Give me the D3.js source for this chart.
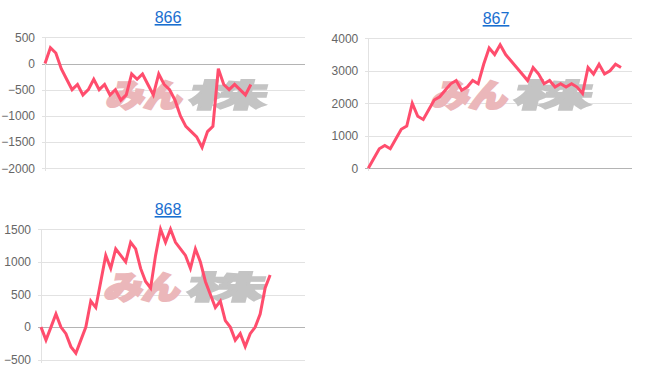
<!DOCTYPE html>
<html>
<head>
  <meta charset="utf-8">
  <title>866 867 868</title>
  <style>
    body { margin: 0; background: #fff; }
    svg { display: block; font-family: "Liberation Sans", Arial, sans-serif; }
    .tick text { fill: #666; font-size: 12px; }
    .title { fill: #1a6fd0; font-size: 16px; text-decoration: underline; }
  </style>
  <script src="https://cdn.jsdelivr.net/npm/d3@7"></script>
</head>
<body>
<svg id="chart" width="652" height="382"></svg>
<script>

// chart titles
var titles = ["866", "867", "868"];

// number of category slots on each x axis
var slots = [49, 49, 54];

// y axis ticks
var ticks866 = [-2000, -1500, -1000, -500, 0, 500];
var ticks867 = [0, 1000, 2000, 3000, 4000];
var ticks868 = [-500, 0, 500, 1000, 1500];

// series values
var values866 = [0, 300, 200, -100, -300, -500, -400, -600, -500, -300, -500, -400, -600, -500, -700, -600,
  -200, -300, -200, -400, -600, -200, -400, -500, -700, -1000, -1200, -1300, -1400, -1600, -1300, -1200,
  -100, -400, -500, -400, -500, -600, -400];
var values867 = [0, 300, 600, 700, 600, 900, 1200, 1300, 2000, 1600, 1500, 1800, 2100, 2200, 2400, 2600, 2700,
  2400, 2500, 2700, 2600, 3200, 3700, 3500, 3800, 3500, 3300, 3100, 2900, 2700, 3100, 2900, 2600, 2700, 2500,
  2600, 2500, 2600, 2500, 2300, 3100, 2900, 3200, 2900, 3000, 3200, 3100];
var values868 = [0, -200, 0, 200, 0, -100, -300, -400, -200, 0, 400, 300, 700, 1100, 900, 1200, 1100, 1000, 1300,
  1200, 900, 700, 600, 1100, 1500, 1300, 1500, 1300, 1200, 1100, 900, 1200, 1000, 700, 500, 300, 400, 100, 0,
  -200, -100, -300, -100, 0, 200, 600, 800];

// panel layout (plot area boxes)
var panels = [
  {title: titles[0], n: slots[0], ticks: ticks866, values: values866, left: 45, right: 305, top: 37.3, bottom: 168.3, titleX: 168, titleY: 23},
  {title: titles[1], n: slots[1], ticks: ticks867, values: values867, left: 368.3, right: 632, top: 38.3, bottom: 168.3, titleX: 496, titleY: 24},
  {title: titles[2], n: slots[2], ticks: ticks868, values: values868, left: 41, right: 305, top: 229.3, bottom: 359.7, titleX: 168, titleY: 215}
];

var svg = d3.select("#chart");

panels.forEach(function(p) {
  var g = svg.append("g");

  var x = d3.scalePoint()
    .domain(d3.range(p.n))
    .range([p.left, p.right]);

  var y = d3.scaleLinear()
    .domain(d3.extent(p.ticks))
    .range([p.bottom, p.top]);

  // title
  g.append("text")
    .attr("class", "title")
    .attr("x", p.titleX)
    .attr("y", p.titleY)
    .attr("text-anchor", "middle")
    .text(p.title);

  // y axis with grid
  var axis = g.append("g")
    .attr("transform", "translate(" + p.left + ",0)")
    .call(d3.axisLeft(y)
      .tickValues(p.ticks)
      .tickSize(-(p.right - p.left))
      .tickPadding(10)
      .tickFormat(d3.format("d")));

  axis.select(".domain").remove();
  axis.selectAll(".tick line")
    .attr("x1", -3)
    .attr("stroke", function(d) { return d === 0 ? "#b4b4b4" : "#e2e2e2"; })
    .attr("shape-rendering", "crispEdges");

  // left axis line
  g.append("line")
    .attr("x1", p.left).attr("x2", p.left)
    .attr("y1", p.top).attr("y2", p.bottom + 3)
    .attr("stroke", "#e2e2e2")
    .attr("shape-rendering", "crispEdges");

  // watermark
  var cx = (p.left + p.right) / 2 + 10,
      cy = (p.top + p.bottom) / 2 + 4;
  var wm = g.append("g")
    .attr("transform", "translate(" + cx + "," + cy + ") skewX(-14)")
    .style("font-family", "'Noto Sans CJK JP', sans-serif")
    .style("font-weight", "900")
    .style("font-size", "32px");
  wm.append("text")
    .attr("x", -80).attr("y", 0)
    .attr("textLength", 76)
    .attr("lengthAdjust", "spacingAndGlyphs")
    .attr("fill", "#ebb7ba")
    .attr("stroke", "#ebb7ba")
    .attr("stroke-width", 2.5)
    .text("みん");
  wm.append("text")
    .attr("x", 2).attr("y", 0)
    .attr("textLength", 78)
    .attr("lengthAdjust", "spacingAndGlyphs")
    .attr("fill", "#c4c4c4")
    .attr("stroke", "#c4c4c4")
    .attr("stroke-width", 1.5)
    .text("株");

  // series line
  g.append("path")
    .datum(p.values)
    .attr("fill", "none")
    .attr("stroke", "#ff4d6d")
    .attr("stroke-width", 3)
    .attr("stroke-linejoin", "miter")
    .attr("d", d3.line()
      .x(function(d, i) { return x(i); })
      .y(function(d) { return y(d); }));
});

</script>
</body>
</html>
